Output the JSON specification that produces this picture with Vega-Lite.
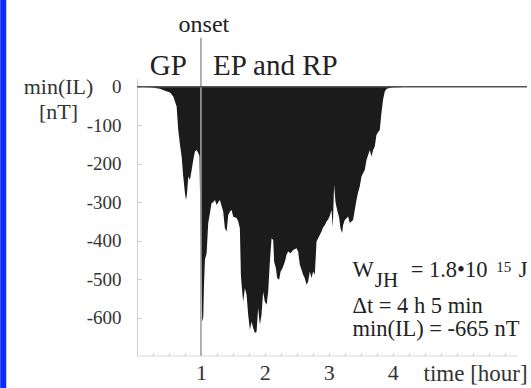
{
  "$schema": "https://vega.github.io/schema/vega-lite/v6.json",
  "width": 390,
  "height": 278,
  "autosize": {"type": "none"},
  "padding": {"left": 137, "top": 78, "right": 4, "bottom": 32},
  "background": "white",
  "config": {"view": {"stroke": null}, "font": "Liberation Serif"},
  "resolve": {"axis": {"x": "independent"}},
  "layer": [
    {
      "data": {"values": [
        {"t": 0, "v": 0}, {"t": 0.125, "v": -1}, {"t": 0.234, "v": -2}, {"t": 0.359, "v": -5},
        {"t": 0.4375, "v": -10}, {"t": 0.516, "v": -15}, {"t": 0.567, "v": -25}, {"t": 0.62, "v": -51},
        {"t": 0.645, "v": -112}, {"t": 0.672, "v": -150}, {"t": 0.698, "v": -181}, {"t": 0.723, "v": -233},
        {"t": 0.75, "v": -276}, {"t": 0.766, "v": -294}, {"t": 0.781, "v": -280}, {"t": 0.802, "v": -233},
        {"t": 0.828, "v": -242}, {"t": 0.855, "v": -216}, {"t": 0.88, "v": -190}, {"t": 0.906, "v": -168},
        {"t": 0.933, "v": -164}, {"t": 0.958, "v": -172}, {"t": 0.977, "v": -180}, {"t": 0.992, "v": -350},
        {"t": 1.008, "v": -500}, {"t": 1.02, "v": -611}, {"t": 1.036, "v": -600}, {"t": 1.047, "v": -520},
        {"t": 1.0625, "v": -450}, {"t": 1.089, "v": -433}, {"t": 1.114, "v": -354}, {"t": 1.141, "v": -328},
        {"t": 1.167, "v": -302}, {"t": 1.192, "v": -300}, {"t": 1.219, "v": -294}, {"t": 1.245, "v": -307},
        {"t": 1.27, "v": -300}, {"t": 1.297, "v": -294}, {"t": 1.323, "v": -310}, {"t": 1.348, "v": -324},
        {"t": 1.375, "v": -368}, {"t": 1.402, "v": -376}, {"t": 1.427, "v": -333}, {"t": 1.453, "v": -325},
        {"t": 1.48, "v": -320}, {"t": 1.505, "v": -338}, {"t": 1.558, "v": -341}, {"t": 1.583, "v": -350},
        {"t": 1.609, "v": -368}, {"t": 1.625, "v": -489}, {"t": 1.636, "v": -515}, {"t": 1.661, "v": -559},
        {"t": 1.6875, "v": -523}, {"t": 1.714, "v": -541}, {"t": 1.739, "v": -593}, {"t": 1.766, "v": -632},
        {"t": 1.792, "v": -611}, {"t": 1.817, "v": -627}, {"t": 1.844, "v": -640}, {"t": 1.87, "v": -637},
        {"t": 1.895, "v": -575}, {"t": 1.922, "v": -619}, {"t": 1.948, "v": -593}, {"t": 1.973, "v": -533},
        {"t": 2.0, "v": -559}, {"t": 2.027, "v": -567}, {"t": 2.052, "v": -533}, {"t": 2.078, "v": -455},
        {"t": 2.105, "v": -394}, {"t": 2.13, "v": -398}, {"t": 2.145, "v": -455}, {"t": 2.172, "v": -471},
        {"t": 2.192, "v": -497}, {"t": 2.223, "v": -502}, {"t": 2.245, "v": -481}, {"t": 2.277, "v": -471},
        {"t": 2.3125, "v": -455}, {"t": 2.339, "v": -437}, {"t": 2.364, "v": -428}, {"t": 2.402, "v": -433},
        {"t": 2.442, "v": -424}, {"t": 2.495, "v": -420}, {"t": 2.52, "v": -428}, {"t": 2.547, "v": -463},
        {"t": 2.573, "v": -476}, {"t": 2.598, "v": -489}, {"t": 2.625, "v": -498}, {"t": 2.652, "v": -515},
        {"t": 2.677, "v": -506}, {"t": 2.703, "v": -480}, {"t": 2.73, "v": -497}, {"t": 2.755, "v": -480},
        {"t": 2.781, "v": -489}, {"t": 2.808, "v": -402}, {"t": 2.833, "v": -394}, {"t": 2.859, "v": -385},
        {"t": 2.886, "v": -376}, {"t": 2.911, "v": -365}, {"t": 2.9375, "v": -360}, {"t": 2.964, "v": -350},
        {"t": 2.989, "v": -345}, {"t": 3.016, "v": -335}, {"t": 3.042, "v": -320}, {"t": 3.0625, "v": -365},
        {"t": 3.083, "v": -255}, {"t": 3.105, "v": -300}, {"t": 3.13, "v": -320}, {"t": 3.161, "v": -340},
        {"t": 3.183, "v": -368}, {"t": 3.208, "v": -381}, {"t": 3.223, "v": -360}, {"t": 3.25, "v": -346},
        {"t": 3.277, "v": -342}, {"t": 3.302, "v": -337}, {"t": 3.328, "v": -354}, {"t": 3.355, "v": -350},
        {"t": 3.38, "v": -346}, {"t": 3.406, "v": -320}, {"t": 3.433, "v": -294}, {"t": 3.458, "v": -275},
        {"t": 3.484, "v": -259}, {"t": 3.511, "v": -233}, {"t": 3.536, "v": -225}, {"t": 3.5625, "v": -216},
        {"t": 3.589, "v": -190}, {"t": 3.614, "v": -178}, {"t": 3.641, "v": -164}, {"t": 3.667, "v": -181},
        {"t": 3.692, "v": -165}, {"t": 3.719, "v": -155}, {"t": 3.745, "v": -125}, {"t": 3.77, "v": -118},
        {"t": 3.797, "v": -112}, {"t": 3.823, "v": -68}, {"t": 3.848, "v": -34}, {"t": 3.875, "v": -12},
        {"t": 3.906, "v": -5}, {"t": 3.984, "v": -2}, {"t": 4.109, "v": -1}, {"t": 4.219, "v": 0}
      ]},
      "mark": {"type": "area", "color": "#1b1b1b", "interpolate": "linear"},
      "encoding": {
        "x": {
          "field": "t", "type": "quantitative",
          "scale": {"domain": [0, 6.1], "nice": false, "zero": false},
          "axis": {
            "orient": "bottom",
            "values": [1, 2, 3, 4],
            "format": "d",
            "domain": false, "grid": false, "ticks": false,
            "labelFont": "Liberation Serif", "labelFontSize": 22, "labelColor": "#333333",
            "labelPadding": 6, "labelOverlap": false, "labelFlush": false,
            "title": "time [hour]", "titleFont": "Liberation Serif", "titleFontSize": 23,
            "titleFontWeight": "normal", "titleColor": "#333333",
            "titleAlign": "left", "titleBaseline": "alphabetic", "titleX": 286, "titleY": 24
          }
        },
        "y": {
          "field": "v", "type": "quantitative",
          "scale": {"domain": [-700, 23], "nice": false, "zero": false},
          "axis": {
            "values": [-600, -500, -400, -300, -200, -100, 0],
            "labelExpr": "'' + datum.value",
            "domainColor": "#d0d0d0", "domainWidth": 1, "grid": false,
            "tickColor": "#c8c8c8", "tickSize": -4, "tickWidth": 1,
            "labelFont": "Liberation Serif", "labelFontSize": 19, "labelColor": "#333333",
            "labelPadding": 20, "labelOverlap": false,
            "title": ["min(IL)", "[nT]"], "titleFont": "Liberation Serif", "titleFontSize": 22,
            "titleFontWeight": "normal", "titleColor": "#333333", "titleAngle": 0,
            "titleAlign": "center", "titleBaseline": "alphabetic", "titleX": -79, "titleY": 15,
            "titleLineHeight": 25
          }
        }
      }
    },
    {
      "data": {"values": [{"x0": -2.14, "x1": -2.045, "y0": 230, "y1": -790}]},
      "mark": {"type": "rect", "color": "#0a2cff", "clip": false},
      "encoding": {
        "x": {"field": "x0", "type": "quantitative", "axis": null},
        "x2": {"field": "x1"},
        "y": {"field": "y0", "type": "quantitative"},
        "y2": {"field": "y1"}
      }
    },
    {
      "data": {"values": [{"t": 1, "v1": -700, "v2": 128}]},
      "mark": {"type": "rule", "color": "#a0a0a0", "strokeWidth": 1.6},
      "encoding": {
        "x": {"field": "t", "type": "quantitative", "axis": null},
        "y": {"field": "v1", "type": "quantitative"},
        "y2": {"field": "v2"}
      }
    },
    {
      "data": {"values": [{"t0": 0, "t1": 5.95, "v": -700}]},
      "mark": {"type": "rule", "color": "#d8d8d8", "strokeWidth": 1},
      "encoding": {
        "x": {
          "field": "t0", "type": "quantitative",
          "axis": {
            "orient": "bottom",
            "values": [0.25, 0.5, 0.75, 1, 1.25, 1.5, 1.75, 2, 2.25, 2.5, 2.75, 3, 3.25, 3.5, 3.75, 4, 4.25, 4.5, 4.75, 5, 5.25, 5.5, 5.75],
            "labels": false, "domain": false, "grid": false, "title": null,
            "tickColor": "#c8c8c8", "tickSize": -3, "tickWidth": 1
          }
        },
        "x2": {"field": "t1"},
        "y": {"field": "v", "type": "quantitative"}
      }
    },
    {
      "data": {"values": [{"t0": 0, "t1": 6.1, "v": 0}]},
      "mark": {"type": "rule", "color": "#555555", "strokeWidth": 1.5},
      "encoding": {
        "x": {"field": "t0", "type": "quantitative", "axis": null},
        "x2": {"field": "t1"},
        "y": {"field": "v", "type": "quantitative"}
      }
    },
    {
      "data": {"values": [{"t": 1.047, "v": 143, "label": "onset"}]},
      "mark": {"type": "text", "font": "Liberation Serif", "fontSize": 24, "color": "#222222", "align": "center", "baseline": "alphabetic"},
      "encoding": {
        "x": {"field": "t", "type": "quantitative", "axis": null},
        "y": {"field": "v", "type": "quantitative"},
        "text": {"field": "label"}
      }
    },
    {
      "data": {"values": [{"t": 0.2, "v": 31, "label": "GP"}, {"t": 1.19, "v": 31, "label": "EP and RP"}]},
      "mark": {"type": "text", "font": "Liberation Serif", "fontSize": 29, "color": "#222222", "align": "left", "baseline": "alphabetic"},
      "encoding": {
        "x": {"field": "t", "type": "quantitative", "axis": null},
        "y": {"field": "v", "type": "quantitative"},
        "text": {"field": "label"}
      }
    },
    {
      "data": {"values": [
        {"t": 3.37, "v": -494, "label": "W"},
        {"t": 4.28, "v": -494, "label": "= 1.8•10"},
        {"t": 5.97, "v": -494, "label": "J"},
        {"t": 3.37, "v": -589, "label": "Δt = 4 h 5 min"},
        {"t": 3.37, "v": -649, "label": "min(IL) = -665 nT"}
      ]},
      "mark": {"type": "text", "font": "Liberation Serif", "fontSize": 22.5, "color": "#222222", "align": "left", "baseline": "alphabetic"},
      "encoding": {
        "x": {"field": "t", "type": "quantitative", "axis": null},
        "y": {"field": "v", "type": "quantitative"},
        "text": {"field": "label"}
      }
    },
    {
      "data": {"values": [{"t": 3.72, "v": -520, "label": "JH"}]},
      "mark": {"type": "text", "font": "Liberation Serif", "fontSize": 21, "color": "#222222", "align": "left", "baseline": "alphabetic"},
      "encoding": {
        "x": {"field": "t", "type": "quantitative", "axis": null},
        "y": {"field": "v", "type": "quantitative"},
        "text": {"field": "label"}
      }
    },
    {
      "data": {"values": [{"t": 5.62, "v": -482, "label": "15"}]},
      "mark": {"type": "text", "font": "Liberation Serif", "fontSize": 15, "color": "#222222", "align": "left", "baseline": "alphabetic"},
      "encoding": {
        "x": {"field": "t", "type": "quantitative", "axis": null},
        "y": {"field": "v", "type": "quantitative"},
        "text": {"field": "label"}
      }
    }
  ]
}
